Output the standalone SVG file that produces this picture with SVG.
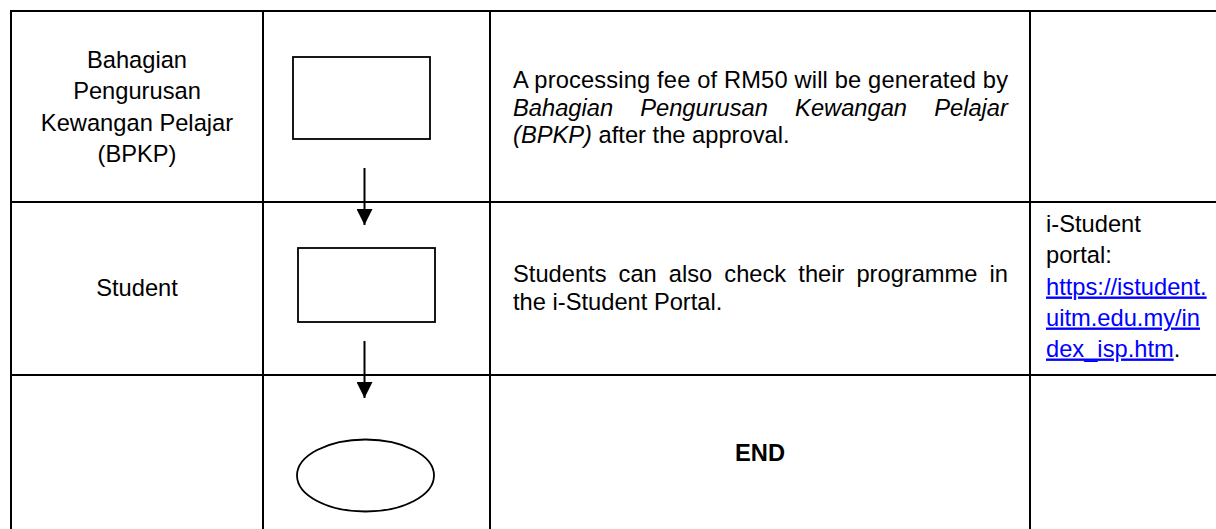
<svg xmlns="http://www.w3.org/2000/svg" width="1216" height="529" viewBox="0 0 1216 529">
<style>
  text { font-family: "Liberation Sans", Arial, sans-serif; font-size: 23.7px; fill: #000; }
  .c { text-anchor: middle; }
  .i { font-style: italic; }
  .b { font-weight: bold; }
  .link { fill: #0000ff; text-decoration: underline; }
  .grid { stroke: #000; stroke-width: 2; fill: none; }
  .shape { stroke: #000; stroke-width: 1.8; fill: #fff; }
  .conn { stroke: #000; stroke-width: 2; fill: none; }
</style>
<defs>
  <marker id="arrow" viewBox="0 0 16 16" refX="16" refY="8" markerWidth="16" markerHeight="16" markerUnits="userSpaceOnUse" orient="auto">
    <path d="M0,0 L16,8 L0,16 Z" fill="#000"/>
  </marker>
</defs>
<rect width="1216" height="529" fill="#fff"/>
<g id="table">
  <line class="grid" x1="11" y1="11" x2="1216" y2="11"/>
  <line class="grid" x1="11" y1="202" x2="1216" y2="202"/>
  <line class="grid" x1="11" y1="375" x2="1216" y2="375"/>
  <line class="grid" x1="11" y1="10" x2="11" y2="529"/>
  <line class="grid" x1="263" y1="10" x2="263" y2="529"/>
  <line class="grid" x1="490" y1="10" x2="490" y2="529"/>
  <line class="grid" x1="1030" y1="10" x2="1030" y2="529"/>
</g>
<g id="row1-label">
  <text class="c" x="137" y="68">Bahagian</text>
  <text class="c" x="137" y="99.3">Pengurusan</text>
  <text class="c" x="137" y="130.6">Kewangan Pelajar</text>
  <text class="c" x="137" y="162">(BPKP)</text>
</g>
<g id="node-process1">
  <rect class="shape" x="293" y="57" width="137" height="82" stroke-width="1.6"/>
</g>
<g id="row1-desc">
  <text x="513" y="88" textLength="495" lengthAdjust="spacing">A processing fee of RM50 will be generated by</text>
  <text class="i" y="115.5"><tspan x="513">Bahagian</tspan><tspan x="640.2">Pengurusan</tspan><tspan x="795.1">Kewangan</tspan><tspan x="934.2">Pelajar</tspan></text>
  <text x="513" y="143"><tspan class="i">(BPKP)</tspan> after the approval.</text>
</g>
<g id="row2-label">
  <text class="c" x="137" y="296">Student</text>
</g>
<g id="node-process2">
  <rect class="shape" x="298" y="248" width="137" height="74"/>
</g>
<g id="row2-desc">
  <text y="282"><tspan x="513">Students</tspan><tspan x="618.6">can</tspan><tspan x="668.8">also</tspan><tspan x="724.3">check</tspan><tspan x="798.3">their</tspan><tspan x="856.4">programme</tspan><tspan x="989.6">in</tspan></text>
  <text x="513" y="309.5">the i-Student Portal.</text>
</g>
<g id="row2-remark">
  <text x="1046" y="232">i-Student</text>
  <text x="1046" y="263">portal:</text>
  <text x="1046" y="294.5" class="link">https://istudent.</text>
  <text x="1046" y="325.5" class="link">uitm.edu.my/in</text>
  <text x="1046" y="356.5"><tspan class="link">dex_isp.htm</tspan>.</text>
</g>
<g id="node-end">
  <ellipse class="shape" cx="365.5" cy="475.5" rx="68.5" ry="36" stroke-width="1.6"/>
</g>
<g id="row3-desc">
  <text class="c b" x="760" y="461">END</text>
</g>
<g id="connectors">
  <line class="conn" x1="364.5" y1="168" x2="364.5" y2="225" marker-end="url(#arrow)"/>
  <line class="conn" x1="364.5" y1="341" x2="364.5" y2="398" marker-end="url(#arrow)"/>
</g>
</svg>
